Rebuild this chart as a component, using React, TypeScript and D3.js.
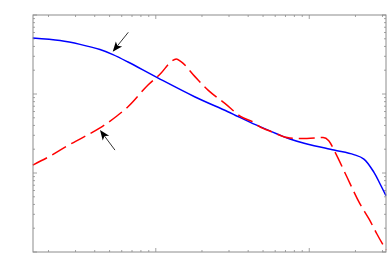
import React from "react";
import * as d3 from "d3";

const blueX = [0.158, 0.238, 0.321, 0.433, 0.526, 0.659, 1.03, 1.79, 2.95, 4.50, 7.48, 9.66, 14.5, 19.5, 22.7, 26.4, 29.0, 31.6];
const blueY = [5.12, 4.75, 4.25, 3.65, 3.15, 2.54, 1.60, 0.924, 0.597, 0.406, 0.269, 0.233, 0.195, 0.171, 0.150, 0.102, 0.072, 0.0516];

const redX = [0.158, 0.205, 0.264, 0.336, 0.433, 0.558, 0.659, 0.890, 1.08, 1.26, 1.36, 1.46, 1.80, 2.19, 2.82, 3.59, 4.43, 4.60, 5.55, 7.48, 9.66, 12.3, 13.4, 14.7, 17.6, 21.4, 24.5, 27.6, 31.6];
const redY = [0.126, 0.164, 0.220, 0.283, 0.372, 0.527, 0.690, 1.30, 1.83, 2.57, 2.77, 2.57, 1.66, 1.12, 0.762, 0.516, 0.426, 0.40, 0.340, 0.277, 0.273, 0.281, 0.256, 0.185, 0.0889, 0.0406, 0.0262, 0.0169, 0.0106];

// annotation arrows: [tailX, tailY, headX, headY]
const arrowBlue = [0.662, 6.04, 0.524, 3.43];
const arrowRed = [0.542, 0.195, 0.433, 0.35];

const xDomain = [Math.pow(10, -0.8), Math.pow(10, 1.5)];
const yDomain = [0.01, 10];

export default function App() {
  const W = 387, H = 254;
  const L = 33, R = 386, T = 15, B = 252;
  const x = d3.scaleLog().domain(xDomain).range([L, R]);
  const y = d3.scaleLog().domain(yDomain).range([B, T]);

  const blueLine = d3.line<[number, number]>()
    .x(d => x(d[0])).y(d => y(d[1])).curve(d3.curveCatmullRom.alpha(0.5));
  const redLine = d3.line<[number, number]>()
    .x(d => x(d[0])).y(d => y(d[1])).curve(d3.curveMonotoneX);
  const bluePts = blueX.map((v, i) => [v, blueY[i]] as [number, number]);
  const redPts = redX.map((v, i) => [v, redY[i]] as [number, number]);

  const xTicks: { v: number; major: boolean }[] = [];
  for (let e = -1; e <= 1; e++) {
    for (let k = 1; k <= 9; k++) {
      const v = k * Math.pow(10, e);
      if (v >= xDomain[0] && v <= xDomain[1]) xTicks.push({ v, major: k === 1 });
    }
  }
  const yTicks: { v: number; major: boolean }[] = [];
  for (let e = -2; e <= 1; e++) {
    for (let k = 1; k <= 9; k++) {
      const v = k * Math.pow(10, e);
      if (v >= yDomain[0] * 0.999 && v <= yDomain[1] * 1.001) yTicks.push({ v, major: k === 1 });
    }
  }
  const axisColor = "#8c8c8c";

  const arrow = (a: number[], key: string) => {
    const x1 = x(a[0]), y1 = y(a[1]), x2 = x(a[2]), y2 = y(a[3]);
    const ang = Math.atan2(y2 - y1, x2 - x1);
    const len = 10, w = 4;
    const bx = x2 - len * Math.cos(ang), by = y2 - len * Math.sin(ang);
    const px = -Math.sin(ang) * w, py = Math.cos(ang) * w;
    const back = 0.75;
    const cx = x2 - len * back * Math.cos(ang), cy = y2 - len * back * Math.sin(ang);
    return (
      <g key={key}>
        <line x1={x1} y1={y1} x2={cx} y2={cy} stroke="#000" strokeWidth={0.8} />
        <path d={`M${x2},${y2} L${bx + px},${by + py} L${cx},${cy} L${bx - px},${by - py} Z`} fill="#000" />
      </g>
    );
  };

  return (
    <svg width={W} height={H} style={{ position: "fixed", left: 0, top: 0, background: "#fff" }}>
      <rect x={0} y={0} width={W} height={H} fill="#fff" />
      <g stroke={axisColor} strokeWidth={0.8}>
        {xTicks.map((t, i) => {
          const px = x(t.v), l = t.major ? 4 : 2;
          return (
            <g key={"xt" + i}>
              <line x1={px} x2={px} y1={B} y2={B - l} />
              <line x1={px} x2={px} y1={T} y2={T + l} />
            </g>
          );
        })}
        {yTicks.map((t, i) => {
          const py = y(t.v), l = t.major ? 4 : 2;
          return (
            <g key={"yt" + i}>
              <line x1={L} x2={L + l} y1={py} y2={py} />
              <line x1={R} x2={R - l} y1={py} y2={py} />
            </g>
          );
        })}
      </g>
      <path d={blueLine(bluePts) || ""} fill="none" stroke="#0000ff" strokeWidth={1.5} />
      <path d={redLine(redPts) || ""} fill="none" stroke="#ff0000" strokeWidth={1.5} strokeDasharray="16,6" />
      {arrow(arrowBlue, "a1")}
      {arrow(arrowRed, "a2")}
      <rect x={L} y={T} width={R - L} height={B - T} fill="none" stroke={axisColor} strokeWidth={1} />
    </svg>
  );
}
